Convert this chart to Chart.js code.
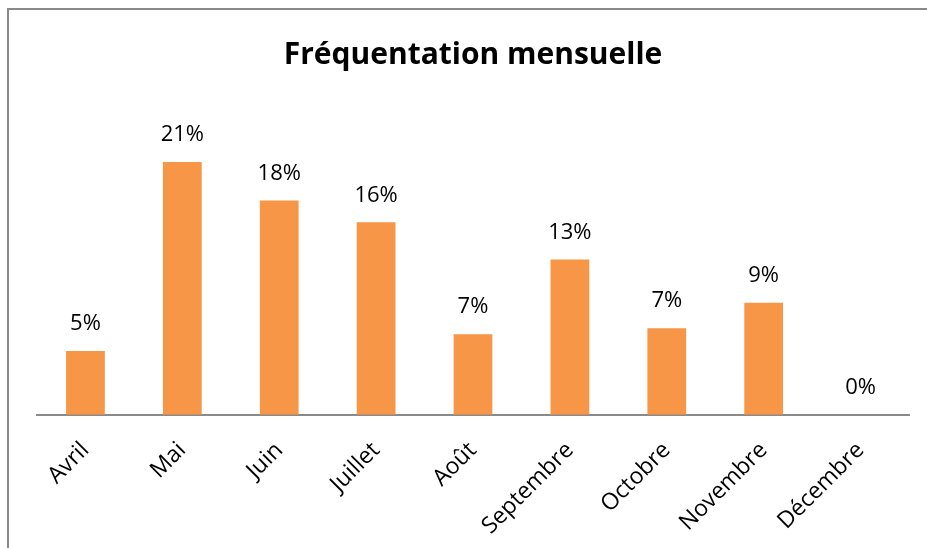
<!DOCTYPE html>
<html lang="fr">
<head>
<meta charset="UTF-8">
<title>Fréquentation mensuelle</title>
<script src="https://cdn.jsdelivr.net/npm/chart.js"></script>
<style>
    body { margin: 0; background: #fff; }
    .frame {
        position: absolute;
        left: 7px;
        top: 8px;
        width: 918px;
        height: 538px;
        border-top: 2px solid #8a8a8a;
        border-left: 2px solid #8a8a8a;
    }
    canvas { display: block; }
</style>
</head>
<body>
<div class="frame">
    <canvas id="chart" width="918" height="538"></canvas>
</div>
<script>
    const months = ['Avril', 'Mai', 'Juin', 'Juillet', 'Août', 'Septembre', 'Octobre', 'Novembre', 'Décembre'];
    const values = [5.3, 21, 17.8, 16, 6.7, 12.9, 7.2, 9.3, 0];

    const FONT = '"Open Sans", sans-serif';

    // étiquettes de valeur au-dessus des barres
    const valueLabels = {
        id: 'valueLabels',
        afterDatasetsDraw(chart) {
            const ctx = chart.ctx;
            const meta = chart.getDatasetMeta(0);
            ctx.save();
            ctx.font = '22px ' + FONT;
            ctx.fillStyle = '#000';
            ctx.textAlign = 'center';
            ctx.textBaseline = 'bottom';
            meta.data.forEach((bar, i) => {
                ctx.fillText(Math.round(values[i]) + '%', bar.x, bar.y - 16);
            });
            ctx.restore();
        }
    };

    new Chart(document.getElementById('chart'), {
        type: 'bar',
        data: {
            labels: months,
            datasets: [{
                data: values,
                backgroundColor: '#F79646',
                barPercentage: 0.4,
                categoryPercentage: 1
            }]
        },
        options: {
            responsive: false,
            animation: false,
            layout: { padding: { left: 28, right: 18, top: 0, bottom: -14 } },
            scales: {
                x: {
                    grid: { display: false, drawTicks: false },
                    border: { color: '#8a8a8a', width: 2 },
                    ticks: {
                        color: '#000',
                        font: { family: FONT, size: 23 },
                        minRotation: 45,
                        maxRotation: 45,
                        padding: 22
                    }
                },
                y: {
                    display: false,
                    min: 0,
                    max: 24
                }
            },
            plugins: {
                legend: { display: false },
                tooltip: { enabled: false },
                title: {
                    display: true,
                    text: 'Fréquentation mensuelle',
                    color: '#000',
                    font: { family: FONT, size: 30, weight: 'bold' },
                    padding: { top: 27, bottom: 53 }
                }
            }
        },
        plugins: [valueLabels]
    });
</script>
</body>
</html>
